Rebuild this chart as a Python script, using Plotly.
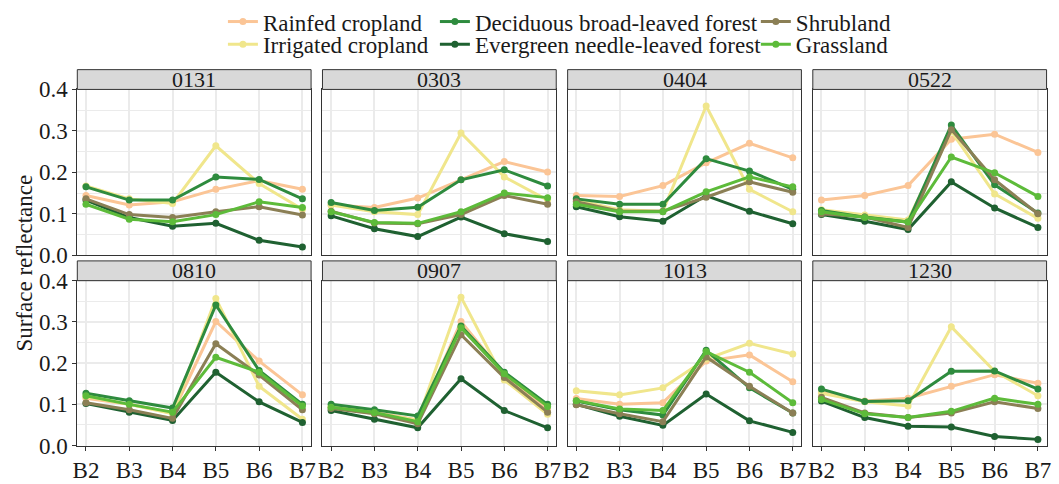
import plotly.graph_objects as go

# Sentinel-2 style bands and acquisition dates
bands = ["B2", "B3", "B4", "B5", "B6", "B7"]
dates = ["0131", "0303", "0404", "0522", "0810", "0907", "1013", "1230"]

# Surface reflectance per land-cover class: one row per date, one value per band
rainfed = [
    [0.144, 0.121, 0.129, 0.159, 0.180, 0.159],
    [0.121, 0.115, 0.138, 0.182, 0.226, 0.201],
    [0.144, 0.142, 0.168, 0.223, 0.270, 0.235],
    [0.133, 0.144, 0.168, 0.280, 0.292, 0.248],
    [0.115, 0.100, 0.079, 0.301, 0.205, 0.123],
    [0.095, 0.081, 0.062, 0.301, 0.172, 0.089],
    [0.114, 0.100, 0.104, 0.205, 0.220, 0.155],
    [0.129, 0.108, 0.115, 0.144, 0.172, 0.151],
]
irrigated = [
    [0.167, 0.136, 0.125, 0.264, 0.173, 0.111],
    [0.121, 0.105, 0.098, 0.295, 0.189, 0.133],
    [0.133, 0.110, 0.106, 0.360, 0.159, 0.105],
    [0.110, 0.097, 0.085, 0.299, 0.148, 0.089],
    [0.119, 0.100, 0.077, 0.357, 0.144, 0.064],
    [0.093, 0.077, 0.062, 0.360, 0.159, 0.076],
    [0.133, 0.123, 0.140, 0.210, 0.248, 0.222],
    [0.127, 0.106, 0.096, 0.288, 0.180, 0.121],
]
deciduous = [
    [0.165, 0.133, 0.133, 0.189, 0.183, 0.136],
    [0.127, 0.108, 0.116, 0.182, 0.206, 0.167],
    [0.136, 0.123, 0.123, 0.233, 0.203, 0.159],
    [0.108, 0.092, 0.080, 0.314, 0.170, 0.102],
    [0.127, 0.109, 0.091, 0.341, 0.182, 0.100],
    [0.100, 0.087, 0.072, 0.290, 0.178, 0.100],
    [0.108, 0.087, 0.074, 0.231, 0.140, 0.079],
    [0.137, 0.107, 0.109, 0.180, 0.181, 0.137],
]
evergreen = [
    [0.133, 0.091, 0.070, 0.077, 0.036, 0.020],
    [0.095, 0.064, 0.045, 0.092, 0.052, 0.033],
    [0.117, 0.093, 0.082, 0.144, 0.106, 0.076],
    [0.098, 0.082, 0.062, 0.177, 0.114, 0.067],
    [0.102, 0.081, 0.061, 0.178, 0.106, 0.056],
    [0.085, 0.064, 0.043, 0.162, 0.085, 0.043],
    [0.100, 0.071, 0.049, 0.125, 0.060, 0.032],
    [0.108, 0.068, 0.047, 0.045, 0.022, 0.015],
]
shrubland = [
    [0.136, 0.098, 0.091, 0.105, 0.117, 0.097],
    [0.106, 0.078, 0.076, 0.098, 0.144, 0.123],
    [0.129, 0.106, 0.106, 0.140, 0.177, 0.152],
    [0.100, 0.092, 0.067, 0.303, 0.182, 0.100],
    [0.104, 0.087, 0.066, 0.247, 0.171, 0.087],
    [0.090, 0.077, 0.053, 0.269, 0.165, 0.081],
    [0.099, 0.077, 0.058, 0.215, 0.144, 0.079],
    [0.117, 0.079, 0.068, 0.079, 0.106, 0.090],
]
grassland = [
    [0.123, 0.087, 0.081, 0.098, 0.129, 0.115],
    [0.105, 0.079, 0.077, 0.105, 0.150, 0.139],
    [0.123, 0.105, 0.105, 0.153, 0.189, 0.165],
    [0.105, 0.091, 0.080, 0.237, 0.199, 0.142],
    [0.121, 0.100, 0.081, 0.214, 0.178, 0.096],
    [0.093, 0.080, 0.058, 0.286, 0.174, 0.095],
    [0.109, 0.089, 0.085, 0.228, 0.178, 0.104],
    [0.112, 0.077, 0.068, 0.083, 0.115, 0.100],
]

class_names = [
    "Rainfed cropland",
    "Irrigated cropland",
    "Deciduous broad-leaved forest",
    "Evergreen needle-leaved forest",
    "Shrubland",
    "Grassland",
]
class_values = [rainfed, irrigated, deciduous, evergreen, shrubland, grassland]
class_colors = ["#FBC596", "#F0E68C", "#2E8B3E", "#1F6131", "#8B7F55", "#5DBB3A"]

W, H = 1059, 484
FONT = "Liberation Serif"

# Panel geometry in pixels
col_x = [(73, 309), (320.5, 556.5), (568, 804), (815.5, 1051.5)]
row_y = [(79, 255), (282, 457)]  # top/bottom of each row's plotting area
strip_h = 21

fig = go.Figure()

for p, date in enumerate(dates):
    for k, name in enumerate(class_names):
        fig.add_trace(go.Scatter(
            x=bands,
            y=class_values[k][p],
            mode="lines+markers",
            name=name,
            line=dict(color=class_colors[k], width=3),
            marker=dict(color=class_colors[k], size=7),
            xaxis=f"x{p + 1}",
            yaxis=f"y{p + 1}",
            showlegend=(p == 0),
            legend="legend" if k == 0 else f"legend{k + 1}",
        ))

layout = dict(
    width=W, height=H,
    margin=dict(l=0, r=0, t=0, b=0),
    paper_bgcolor="white",
    plot_bgcolor="white",
    font=dict(family=FONT, size=22, color="#1a1a1a"),
    shapes=[],
    annotations=[],
)

for p, date in enumerate(dates):
    r, c = divmod(p, 4)
    x0, x1 = col_x[c]
    ytop, ybot = row_y[r]
    sfx = "" if p == 0 else str(p + 1)
    layout[f"xaxis{sfx}"] = dict(
        domain=[x0 / W, x1 / W],
        anchor=f"y{p + 1}",
        type="category",
        range=[-0.2, 5.2],
        showgrid=True, gridcolor="#EBEBEB", gridwidth=2,
        showline=True, linecolor="#333333", linewidth=1, mirror=True,
        zeroline=False,
        ticks="outside" if r == 1 else "",
        ticklen=4, tickcolor="#333333",
        showticklabels=(r == 1),
        tickfont=dict(family=FONT, size=23, color="#1a1a1a"),
    )
    layout[f"yaxis{sfx}"] = dict(
        domain=[(H - ybot) / H, (H - ytop) / H],
        anchor=f"x{p + 1}",
        range=[0, 0.4],
        dtick=0.1, tick0=0, tickformat=".1f",
        showgrid=True, gridcolor="#EBEBEB", gridwidth=2,
        minor=dict(dtick=0.05, tick0=0, showgrid=True, gridcolor="#EBEBEB", gridwidth=1),
        showline=True, linecolor="#333333", linewidth=1, mirror=True,
        zeroline=False,
        ticks="outside" if c == 0 else "",
        ticklen=4, tickcolor="#333333",
        showticklabels=(c == 0),
        tickfont=dict(family=FONT, size=23, color="#1a1a1a"),
    )
    # facet strip
    layout["shapes"].append(dict(
        type="rect", xref="paper", yref="paper",
        x0=x0 / W, x1=x1 / W,
        y0=(H - ytop) / H, y1=(H - ytop + strip_h) / H,
        fillcolor="#D9D9D9", line=dict(color="#333333", width=1),
        layer="above",
    ))
    layout["annotations"].append(dict(
        text=date, xref="paper", yref="paper",
        x=(x0 + x1) / 2 / W, y=(H - ytop + strip_h / 2) / H,
        xanchor="center", yanchor="middle", showarrow=False,
        font=dict(family=FONT, size=22, color="#1a1a1a"),
    ))

layout["annotations"].append(dict(
    text="Surface reflectance", xref="paper", yref="paper",
    x=20 / W, y=(H - 263) / H, textangle=-90,
    xanchor="center", yanchor="middle", showarrow=False,
    font=dict(family=FONT, size=23, color="#1a1a1a"),
))

# one legend per entry, laid out as three columns of two rows
legend_pos = [(220, 7), (220, 31), (434, 7), (434, 31), (758, 7), (758, 31)]
for k, (lx, ly) in enumerate(legend_pos):
    key = "legend" if k == 0 else f"legend{k + 1}"
    layout[key] = dict(
        x=lx / W, y=(H - ly) / H, xanchor="left", yanchor="middle",
        bgcolor="rgba(0,0,0,0)", borderwidth=0,
        font=dict(family=FONT, size=23, color="#1a1a1a"),
        itemwidth=30,
    )

fig.update_layout(**layout)
fig.write_html("out.html")
